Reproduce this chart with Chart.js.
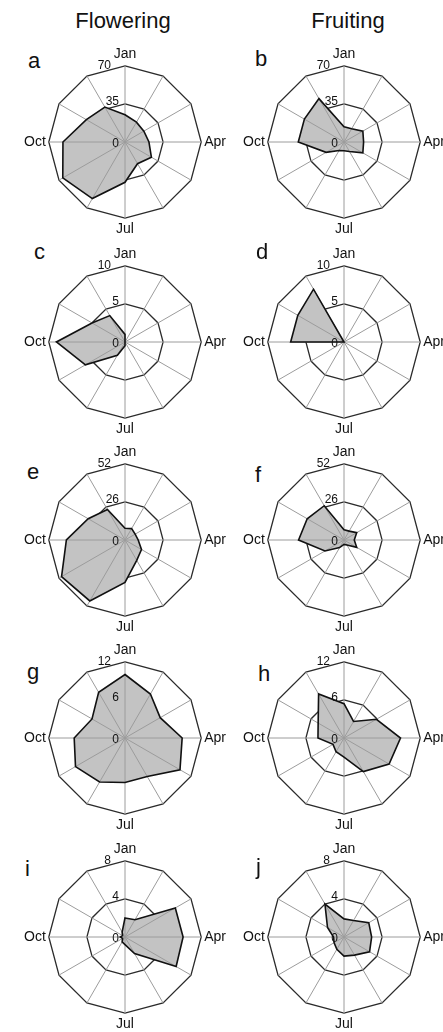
<!DOCTYPE html>
<html>
<head>
<meta charset="utf-8">
<script src="https://cdn.jsdelivr.net/npm/chart.js@4.4.1/dist/chart.umd.min.js"></script>
<style>
  html, body { margin: 0; padding: 0; background: #fff; }
  body {
    position: relative; width: 443px; height: 1032px; overflow: hidden;
    font-family: "Liberation Sans", Arial, Helvetica, sans-serif; color: #111;
  }
  .title { position: absolute; font-size: 22px; line-height: 22px; white-space: nowrap; transform: translateX(-50%); }
  .tag { position: absolute; font-size: 22px; line-height: 22px; }
  canvas { position: absolute; }
</style>
</head>
<body>
<div class="title" style="left:123px; top:10px;">Flowering</div>
<div class="title" style="left:348px; top:10px;">Fruiting</div>

<script>
// Month categories around each radar (clockwise from the top)
const months = ['Jan', 'Feb', 'Mar', 'Apr', 'May', 'Jun', 'Jul', 'Aug', 'Sep', 'Oct', 'Nov', 'Dec'];
// Only the quarter months are written on the outer ring
const axisMonths = ['Jan', 'Apr', 'Jul', 'Oct'];

// Panel letters and the outer value of each radial axis
const panelTags = ['a', 'b', 'c', 'd', 'e', 'f', 'g', 'h', 'i', 'j'];
const scaleMax = [70, 70, 10, 10, 52, 52, 12, 12, 8, 8];

// Monthly counts, Jan..Dec (left column flowering, right column fruiting)
const seriesA = [25, 21, 20, 22, 28, 23, 37, 60, 66, 57, 41, 37];
const seriesB = [14, 14, 20, 18, 20, 10, 8, 9, 19, 42, 42, 46];
const seriesC = [1, 0, 0, 0, 0, 0, 0.5, 2, 6, 9, 5, 4];
const seriesD = [0, 0, 0, 0, 0, 0, 0, 0, 0, 7, 7, 8];
const seriesE = [8, 9, 8, 9, 13, 16, 29, 48, 50, 40, 29, 24];
const seriesF = [7, 7, 10, 7, 10, 4, 3, 6, 15, 31, 29, 27];
const seriesG = [10, 8, 6.4, 9, 10, 7, 7, 8, 9, 8, 6, 8.3];
const seriesH = [5.4, 3, 5.9, 8.9, 8.2, 6.1, 3, 2.5, 2, 4.1, 4.7, 8];
const seriesI = [2, 2.1, 6.1, 6.1, 6.2, 2, 0.8, 0.6, 0.3, 0.5, 0.3, 0.6];
const seriesJ = [1.9, 2, 3, 2.9, 3.1, 2.2, 2, 1.5, 1.2, 1.1, 2, 4];
const allSeries = [seriesA, seriesB, seriesC, seriesD, seriesE, seriesF, seriesG, seriesH, seriesI, seriesJ];

// Page layout
const colCenterX = [125, 344];
const rowCenterY = [143, 343, 541, 739, 938];
const canvasW = 250, canvasH = 192;
const tagPos = [[28, 50], [255, 48], [34, 241], [256, 241], [27, 461], [255, 464], [27, 661], [258, 663], [25, 858], [256, 856]];

const FONT = "'Liberation Sans', Arial, Helvetica, sans-serif";

// Spokes over the shaded area, and the value labels beside the Jan spoke
const radarDecor = {
  id: 'radarDecor',
  afterDatasetDraw(chart, args) {
    if (args.index !== 1) return;
    const s = chart.scales.r, ctx = chart.ctx;
    ctx.save();
    ctx.strokeStyle = '#9c9c9c';
    ctx.lineWidth = 1;
    for (let k = 0; k < chart.data.labels.length; k++) {
      const p = s.getPointPositionForValue(k, s.max);
      ctx.beginPath();
      ctx.moveTo(s.xCenter, s.yCenter);
      ctx.lineTo(p.x, p.y);
      ctx.stroke();
    }
    ctx.restore();
  },
  afterDraw(chart) {
    const s = chart.scales.r, ctx = chart.ctx;
    ctx.save();
    ctx.font = '12px ' + FONT;
    ctx.fillStyle = '#111';
    ctx.textAlign = 'right';
    s.ticks.forEach((t, idx) => {
      const r = s.getDistanceFromCenterForValue(t.value);
      if (t.value === 0) {
        ctx.textBaseline = 'middle';
        ctx.fillText(t.label, s.xCenter - 6, s.yCenter + 2);
      } else {
        const outer = idx === s.ticks.length - 1;
        ctx.textBaseline = 'alphabetic';
        ctx.fillText(t.label, s.xCenter - (outer ? 14 : 6), s.yCenter - r + (outer ? 3 : 1.5));
      }
    });
    ctx.restore();
  }
};

allSeries.forEach((values, k) => {
  const col = k % 2, row = Math.floor(k / 2);

  const tag = document.createElement('div');
  tag.className = 'tag';
  tag.textContent = panelTags[k];
  tag.style.left = tagPos[k][0] + 'px';
  tag.style.top = tagPos[k][1] + 'px';
  document.body.appendChild(tag);

  const cv = document.createElement('canvas');
  cv.width = canvasW; cv.height = canvasH;
  cv.style.width = canvasW + 'px'; cv.style.height = canvasH + 'px';
  cv.style.left = (colCenterX[col] - canvasW / 2) + 'px';
  cv.style.top = (rowCenterY[row] - canvasH / 2) + 'px';
  document.body.appendChild(cv);

  new Chart(cv, {
    type: 'radar',
    data: {
      labels: months,
      datasets: [
        { data: values, fill: false, borderColor: '#111', borderWidth: 1.6,
          backgroundColor: 'rgba(0,0,0,0)', pointRadius: 0, tension: 0 },
        { data: values, fill: 'start', borderWidth: 0, borderColor: 'rgba(0,0,0,0)',
          backgroundColor: '#c3c3c3', pointRadius: 0, tension: 0 }
      ]
    },
    options: {
      responsive: false,
      animation: false,
      events: [],
      devicePixelRatio: 1,
      layout: { padding: 0 },
      plugins: { legend: { display: false }, tooltip: { enabled: false } },
      scales: {
        r: {
          min: 0,
          max: scaleMax[k],
          beginAtZero: true,
          ticks: { display: false, stepSize: scaleMax[k] / 2 },
          angleLines: { display: false },
          grid: { color: '#2b2b2b', lineWidth: 1.3, circular: false },
          pointLabels: {
            display: true,
            padding: 3,
            color: '#111',
            font: { size: 14, family: FONT },
            callback: (label) => axisMonths.includes(label) ? label : ''
          }
        }
      }
    },
    plugins: [radarDecor]
  });
});
</script>
</body>
</html>
